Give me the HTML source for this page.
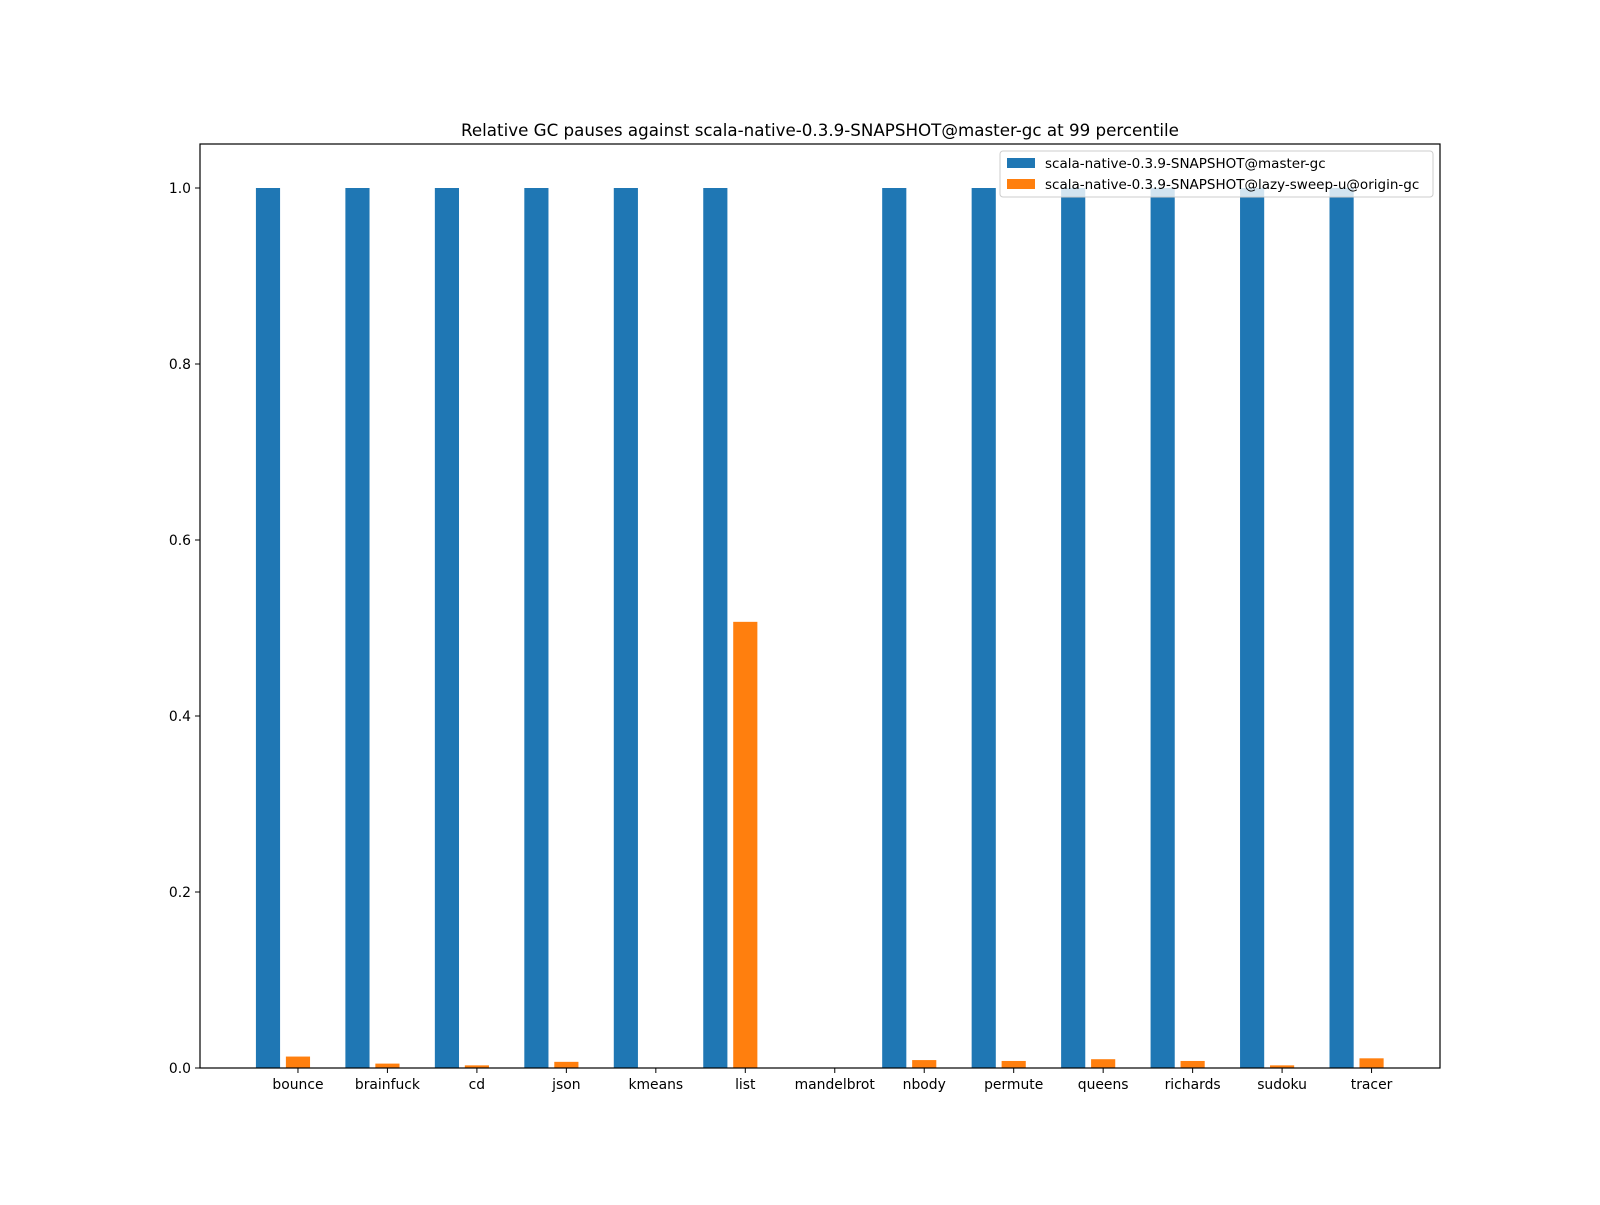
<!DOCTYPE html>
<html><head><meta charset="utf-8"><style>
html,body{margin:0;padding:0;background:#fff;}
svg text{font-family:"DejaVu Sans","Liberation Sans",sans-serif;}
</style></head><body>
<svg id="chart" width="1600" height="1200" xmlns="http://www.w3.org/2000/svg">
<rect width="1600" height="1200" fill="#fff"/>
<text x="820" y="136" font-size="16.7" text-anchor="middle">Relative GC pauses against scala-native-0.3.9-SNAPSHOT@master-gc at 99 percentile</text>
<g id="marks"></g>
<g id="axes"></g>
<rect x="200" y="144" width="1240" height="924" fill="none" stroke="#000" stroke-width="1.2"/>
<g>
<rect x="1000" y="151" width="433" height="46" rx="3" fill="#fff" fill-opacity="0.8" stroke="#ccc"/>
<rect x="1007" y="158" width="28" height="10" fill="#1f77b4"/>
<text x="1045" y="168" font-size="13.5">scala-native-0.3.9-SNAPSHOT@master-gc</text>
<rect x="1007" y="179" width="28" height="10" fill="#ff7f0e"/>
<text x="1045" y="189" font-size="13.5">scala-native-0.3.9-SNAPSHOT@lazy-sweep-u@origin-gc</text>
</g>
</svg>
<script>
const categories=["bounce","brainfuck","cd","json","kmeans","list","mandelbrot","nbody","permute","queens","richards","sudoku","tracer"];
const masterValues=[1,1,1,1,1,1,0,1,1,1,1,1,1];
const lazyValues=[0.013,0.005,0.003,0.007,0,0.507,0,0.009,0.008,0.010,0.008,0.003,0.011];
const yTicks=[0,0.2,0.4,0.6,0.8,1.0];
const yTickLabels=["0.0","0.2","0.4","0.6","0.8","1.0"];

const NS="http://www.w3.org/2000/svg";
const L=200,R=1440,T=144,B=1068;
const xMin=-1.095,xMax=12.765,yMin=0,yMax=1.05;
const xs=v=>L+(v-xMin)/(xMax-xMin)*(R-L);
const ys=v=>B-(v-yMin)/(yMax-yMin)*(B-T);
const bw=0.27,off=0.335;
const marks=document.getElementById('marks'),axes=document.getElementById('axes');
function mk(tag,attrs,parent){const e=document.createElementNS(NS,tag);for(const k in attrs)e.setAttribute(k,attrs[k]);parent.appendChild(e);return e;}
categories.forEach((c,i)=>{
  const b1=mk('rect',{x:xs(i-off-bw/2),y:ys(masterValues[i]),width:xs(bw)-xs(0),height:ys(0)-ys(masterValues[i]),fill:'#1f77b4'},marks);
  
  
  const b2=mk('rect',{x:xs(i-bw/2),y:ys(lazyValues[i]),width:xs(bw)-xs(0),height:ys(0)-ys(lazyValues[i]),fill:'#ff7f0e'},marks);
  
  
  const tk=mk('line',{x1:xs(i),x2:xs(i),y1:B,y2:B+5,stroke:'#000','stroke-width':1},axes);
  
  
  const t=mk('text',{x:xs(i),y:B+21,'font-size':13.9,'text-anchor':'middle'},axes);
  t.textContent=c;
  
  
});
yTicks.forEach((v,i)=>{
  const tk=mk('line',{x1:L-5,x2:L,y1:ys(v),y2:ys(v),stroke:'#000','stroke-width':1},axes);
  
  
  const t=mk('text',{x:L-9,y:ys(v)+5,'font-size':13.9,'text-anchor':'end'},axes);
  t.textContent=yTickLabels[i];
  
  
});
</script>
</body></html>
